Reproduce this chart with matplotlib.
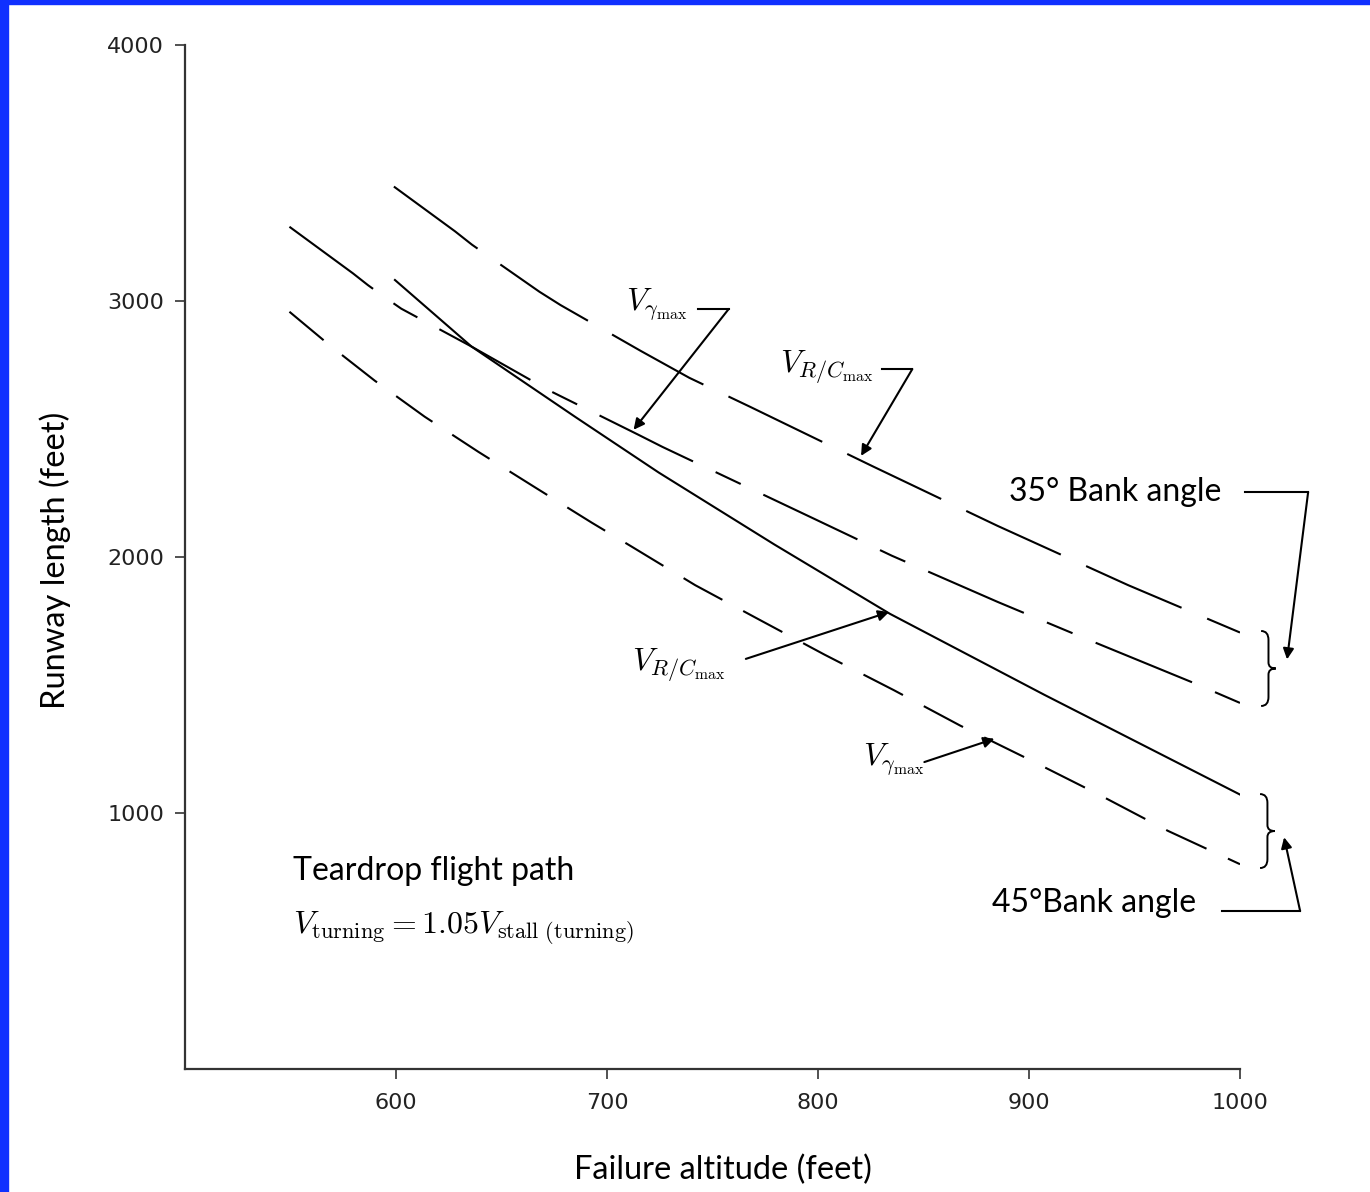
import numpy as np
import matplotlib
matplotlib.use('Agg')
import matplotlib.pyplot as plt
from matplotlib.patches import Rectangle, PathPatch
from matplotlib.path import Path

plt.rcParams['mathtext.fontset'] = 'cm'
plt.rcParams['lines.scale_dashes'] = False

# curves (failure altitude ft, runway length ft)
alt_35_rc = [599, 628, 636, 668, 678, 716, 739, 768, 826, 885, 947, 1000]
run_35_rc = [3447, 3272, 3220, 3036, 2984, 2805, 2700, 2586, 2354, 2122, 1890, 1705]

alt_35_gam = [549.5, 579.6, 586.7, 594.6, 602.5, 635.8, 661.1, 672.2, 715, 726.3, 798.5, 835, 885.3, 924.5, 976.6, 1000]
run_35_gam = [3290, 3108, 3062, 3015, 2970, 2822, 2704, 2652, 2477, 2430, 2148, 2005, 1824, 1689, 1513, 1430]

alt_45_rc = [599.5, 635.8, 685, 724.5, 779.3, 834.1, 907.2, 1000]
run_45_rc = [3082, 2822, 2547, 2330, 2049, 1778, 1462, 1072]

alt_45_gam = [549.5, 569.3, 589.9, 613.6, 639, 665.9, 692.8, 711.8, 741.8, 772.9, 803, 835.9, 867.5, 900.3, 933.1, 965.9, 1000]
run_45_gam = [2958, 2822, 2689, 2548, 2411, 2272, 2134, 2040, 1890, 1752, 1619, 1480, 1341, 1208, 1072, 930, 800]

xticks = [600, 700, 800, 900, 1000]
yticks = [1000, 2000, 3000, 4000]


def brace(ax, x0, y0, y1, w):
    # right-pointing curly brace drawn as a thin path
    ym = (y0 + y1) / 2
    h = y1 - y0
    xm = x0 + w / 2
    verts = [(x0, y1), (xm, y1), (xm, y1 - 0.12 * h), (xm, ym + 0.08 * h),
             (xm, ym), (x0 + w, ym), (xm, ym), (xm, ym - 0.08 * h),
             (xm, y0 + 0.12 * h), (xm, y0), (x0, y0)]
    codes = [Path.MOVETO, Path.CURVE3, Path.CURVE3, Path.LINETO,
             Path.CURVE3, Path.CURVE3, Path.CURVE3, Path.CURVE3,
             Path.LINETO, Path.CURVE3, Path.CURVE3]
    ax.add_patch(PathPatch(Path(verts, codes), fill=False, lw=1.4, color='k',
                           clip_on=False))


fig = plt.figure(figsize=(13.7, 11.92), dpi=100)
ax = fig.add_axes([185/1370, 1 - 1069/1192, 1055/1370, 1024/1192])

lw = 1.5
ax.plot(alt_35_rc, run_35_rc, color='k', lw=lw, linestyle=(0, (75, 20)))
ax.plot(alt_35_gam, run_35_gam, color='k', lw=lw, linestyle=(0, (75, 18, 20, 18)))
ax.plot(alt_45_rc, run_45_rc, color='k', lw=lw)
ax.plot(alt_45_gam, run_45_gam, color='k', lw=lw, linestyle=(0, (32, 17)))

ax.set_xlim(500, 1000)
ax.set_ylim(0, 4000)
ax.set_xticks(xticks)
ax.set_yticks(yticks)
ax.spines['top'].set_visible(False)
ax.spines['right'].set_visible(False)
for s in ['left', 'bottom']:
    ax.spines[s].set_linewidth(1.6)
    ax.spines[s].set_color('#333333')
ax.tick_params(direction='out', length=7, width=1.2, color='#333333',
               labelsize=16, labelcolor='#222222')
ax.tick_params(axis='y', pad=8)
ax.tick_params(axis='x', pad=10)

ax.set_xlabel('Failure altitude (feet)', fontsize=23.5, family='Lato')
ax.set_ylabel('Runway length (feet)', fontsize=23.5, family='Lato')
ax.xaxis.set_label_coords(0.51, -0.0986)
ax.xaxis.label.set_va('center')
ax.yaxis.set_label_coords(-0.123, 0.497)
ax.yaxis.label.set_va('center')

arr = dict(arrowstyle='-|>', mutation_scale=16, lw=1.5, color='k', shrinkA=0, shrinkB=0)

# upper V_gamma_max
ax.text(709, 2984, r'$V_{\gamma_{\mathrm{max}}}$', fontsize=23, va='center', ha='left')
ax.plot([743, 757.7], [2969, 2969], color='k', lw=1.5)
ax.annotate('', xy=(712.6, 2497), xytext=(757.7, 2969), arrowprops=arr)

# upper V_R/C_max
ax.text(782, 2742, r'$V_{R/C_{\mathrm{max}}}$', fontsize=23, va='center', ha='left')
ax.plot([830.4, 844.7], [2734, 2734], color='k', lw=1.5)
ax.annotate('', xy=(820.4, 2395), xytext=(844.7, 2734), arrowprops=arr)

# lower V_R/C_max
ax.text(712, 1578, r'$V_{R/C_{\mathrm{max}}}$', fontsize=23, va='center', ha='left')
ax.annotate('', xy=(833.7, 1785), xytext=(765.8, 1602), arrowprops=arr)

# lower V_gamma_max
ax.text(821.5, 1207, r'$V_{\gamma_{\mathrm{max}}}$', fontsize=23, va='center', ha='left')
ax.annotate('', xy=(883.6, 1290), xytext=(850.4, 1199), arrowprops=arr)

# bank angle groups
ax.text(890.7, 2254, '35° Bank angle', fontsize=23, family='Lato', va='center', ha='left')
ax.plot([1002.4, 1032.3], [2254, 2254], color='k', lw=1.5, clip_on=False)
ax.annotate('', xy=(1022.3, 1600), xytext=(1032.3, 2254), arrowprops=arr,
            annotation_clip=False)
brace(ax, 1010, 1418, 1711, 7)

ax.text(882.7, 648, '45°Bank angle', fontsize=23, family='Lato', va='center', ha='left')
ax.plot([991.4, 1028.5], [617, 617], color='k', lw=1.5, clip_on=False)
ax.annotate('', xy=(1020.9, 905), xytext=(1028.5, 617), arrowprops=arr,
            annotation_clip=False)
brace(ax, 1009.5, 785, 1074, 7)

ax.text(551, 773, 'Teardrop flight path', fontsize=23, family='Lato', va='center', ha='left')
ax.text(551, 551, r'$V_{\mathrm{turning}} = 1.05V_{\mathrm{stall\ (turning)}}$',
        fontsize=23, va='center', ha='left')

# blue frame from the slide
fig.patches.append(Rectangle((0, 0), 8/1370, 1, transform=fig.transFigure,
                             color='#1030ff', zorder=10))
fig.patches.append(Rectangle((0, 1 - 4/1192), 1, 4/1192, transform=fig.transFigure,
                             color='#1030ff', zorder=10))

fig.savefig('out.png', dpi=100)
